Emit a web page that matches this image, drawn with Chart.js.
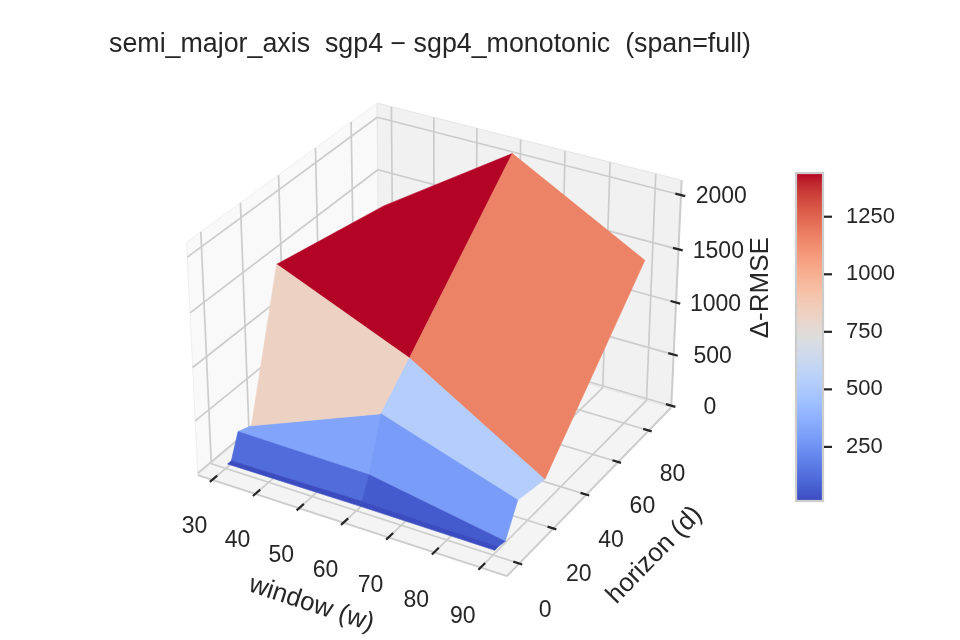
<!DOCTYPE html>
<html>
<head>
<meta charset="utf-8">
<title>semi_major_axis sgp4 - sgp4_monotonic</title>
<script src="https://cdn.jsdelivr.net/npm/chart.js@4.4.1/dist/chart.umd.min.js"></script>
<style>
  html, body { margin: 0; padding: 0; background: #ffffff; }
  #wrap { width: 960px; height: 640px; }
</style>
</head>
<body>
<div id="wrap"><canvas id="surfaceChart" width="960" height="640"></canvas></div>
<script>
// Grid of the surface
const windows = [30, 60, 90];
const horizons = [1, 3, 7, 14, 30, 90];
// Delta-RMSE, one row per horizon, one column per window
const deltaRmse = [
    [10, 15, 10],
    [10, 25, 12],
    [230, 215, -5],
    [180, 680, 270],
    [1480, 965, 210],
    [1250, 2065, 1400]
];

// Tick labels
const windowTicks = [30, 40, 50, 60, 70, 80, 90];
const horizonTicks = [0, 20, 40, 60, 80];
const rmseTicks = [0, 500, 1000, 1500, 2000];
const colorbarTicks = [250, 500, 750, 1000, 1250];

// 3D box limits (axis limits incl. margins)
const X_LIM = [26.6, 95.6];
const Y_LIM = [-7, 95];
const Z_LIM = [-18, 2134];

// View, same as matplotlib default (elev 30, azim -60)
const ELEV = 30, AZIM = -60, DIST = 10;
const ASPECT = [1.1905, 1.1905, 0.8929];
const VIEW_X = [-0.14753, 0.17516];
const VIEW_Y = [-0.10481, 0.11032];

const FONT = '"Liberation Sans", Arial, "DejaVu Sans", sans-serif';
const TEXT_COLOR = '#262626';

// coolwarm colormap
const COOLWARM = [
    [59, 76, 192], [68, 90, 204], [77, 104, 215], [87, 117, 225], [98, 130, 234],
    [108, 142, 241], [119, 154, 247], [130, 165, 251], [141, 176, 254], [152, 185, 255],
    [163, 194, 255], [174, 201, 253], [184, 208, 249], [194, 213, 244], [204, 217, 238],
    [213, 219, 230], [221, 221, 221], [229, 216, 209], [236, 211, 197], [241, 204, 185],
    [245, 196, 173], [247, 187, 160], [247, 177, 148], [247, 166, 135], [244, 154, 123],
    [241, 141, 111], [236, 127, 99], [229, 112, 88], [222, 96, 77], [213, 80, 66],
    [203, 62, 56], [192, 40, 47], [180, 4, 38]
];

function coolwarm(t) {
    t = Math.min(1, Math.max(0, t));
    const n = COOLWARM.length - 1;
    const f = t * n;
    const i = Math.min(n - 1, Math.floor(f));
    const r = f - i;
    const a = COOLWARM[i], b = COOLWARM[i + 1];
    const c = [0, 1, 2].map(k => Math.round(a[k] + (b[k] - a[k]) * r));
    return 'rgb(' + c.join(',') + ')';
}

// view axes
const view = (function() {
    const e = ELEV * Math.PI / 180, a = AZIM * Math.PI / 180;
    const w = [Math.cos(e) * Math.cos(a), Math.cos(e) * Math.sin(a), Math.sin(e)];
    const n = Math.hypot(w[0], w[1]);
    const u = [-w[1] / n, w[0] / n, 0];
    const v = [w[1] * u[2] - w[2] * u[1], w[2] * u[0] - w[0] * u[2], w[0] * u[1] - w[1] * u[0]];
    return { u: u, v: v, w: w };
})();

function dot(a, b) { return a[0] * b[0] + a[1] * b[1] + a[2] * b[2]; }

function project(x, y, z) {
    const q = [
        ((x - X_LIM[0]) / (X_LIM[1] - X_LIM[0]) - 0.5) * ASPECT[0],
        ((y - Y_LIM[0]) / (Y_LIM[1] - Y_LIM[0]) - 0.5) * ASPECT[1],
        ((z - Z_LIM[0]) / (Z_LIM[1] - Z_LIM[0]) - 0.5) * ASPECT[2]
    ];
    const d = DIST - dot(view.w, q);
    return { x: dot(view.u, q) / d, y: dot(view.v, q) / d, depth: d };
}

// faces of the surface, coloured by mean height like plot_surface
const faces = [];
for (let i = 0; i < horizons.length - 1; i++) {
    for (let j = 0; j < windows.length - 1; j++) {
        const corners = [
            [windows[j], horizons[i], deltaRmse[i][j]],
            [windows[j + 1], horizons[i], deltaRmse[i][j + 1]],
            [windows[j + 1], horizons[i + 1], deltaRmse[i + 1][j + 1]],
            [windows[j], horizons[i + 1], deltaRmse[i + 1][j]]
        ];
        const avg = corners.reduce((s, c) => s + c[2], 0) / 4;
        faces.push({ corners: corners, avg: avg });
    }
}
const vmin = Math.min(...faces.map(f => f.avg));
const vmax = Math.max(...faces.map(f => f.avg));

const vertexPoints = [];
horizons.forEach((h, i) => windows.forEach((w, j) => {
    const p = project(w, h, deltaRmse[i][j]);
    vertexPoints.push({ x: p.x, y: p.y });
}));

const surfacePlugin = {
    id: 'surface3d',
    afterDatasetsDraw(chart) {
        const ctx = chart.ctx;
        const sx = chart.scales.x, sy = chart.scales.y;
        const XL = X_LIM[0], XH = X_LIM[1], YL = Y_LIM[0], YH = Y_LIM[1], ZL = Z_LIM[0], ZH = Z_LIM[1];
        const Xr = XH - XL, Yr = YH - YL, Zr = ZH - ZL;
        const dx = Xr / 12, dy = Yr / 12;

        const toPx = (x, y, z) => {
            const p = project(x, y, z);
            return [sx.getPixelForValue(p.x), sy.getPixelForValue(p.y)];
        };
        const poly = (pts, fill, stroke, lw) => {
            ctx.beginPath();
            pts.forEach((p, k) => k ? ctx.lineTo(p[0], p[1]) : ctx.moveTo(p[0], p[1]));
            ctx.closePath();
            if (fill) { ctx.fillStyle = fill; ctx.fill(); }
            if (stroke) { ctx.strokeStyle = stroke; ctx.lineWidth = lw; ctx.stroke(); }
        };
        const line = (a, b, color, lw) => {
            const p = toPx(...a), r = toPx(...b);
            ctx.beginPath();
            ctx.moveTo(p[0], p[1]);
            ctx.lineTo(r[0], r[1]);
            ctx.strokeStyle = color;
            ctx.lineWidth = lw;
            ctx.stroke();
        };
        const label = (str, pos, size, angle) => {
            const p = toPx(...pos);
            ctx.save();
            ctx.translate(p[0], p[1]);
            ctx.rotate(angle || 0);
            ctx.font = size + 'px ' + FONT;
            ctx.fillStyle = TEXT_COLOR;
            ctx.textAlign = 'center';
            ctx.textBaseline = 'middle';
            ctx.fillText(str, 0, 0);
            ctx.restore();
        };

        ctx.save();
        ctx.lineCap = 'butt';

        // panes
        poly([toPx(XL, YL, ZL), toPx(XH, YL, ZL), toPx(XH, YH, ZL), toPx(XL, YH, ZL)], '#f4f4f4', '#eaeaea', 1);
        poly([toPx(XL, YL, ZL), toPx(XL, YH, ZL), toPx(XL, YH, ZH), toPx(XL, YL, ZH)], '#f9f9f9', '#efefef', 1);
        poly([toPx(XL, YH, ZL), toPx(XH, YH, ZL), toPx(XH, YH, ZH), toPx(XL, YH, ZH)], '#f1f1f1', '#e6e6e6', 1);

        // grid lines
        const grid = '#cccccc', glw = 1.7;
        windowTicks.forEach(t => {
            line([t, YL, ZL], [t, YH, ZL], grid, glw);
            line([t, YH, ZL], [t, YH, ZH], grid, glw);
        });
        horizonTicks.forEach(t => {
            line([XL, t, ZL], [XH, t, ZL], grid, glw);
            line([XL, t, ZL], [XL, t, ZH], grid, glw);
        });
        rmseTicks.forEach(t => {
            line([XL, YL, t], [XL, YH, t], grid, glw);
            line([XL, YH, t], [XH, YH, t], grid, glw);
        });

        // axis lines
        line([XL, YL, ZL], [XH, YL, ZL], '#cccccc', 2);
        line([XH, YL, ZL], [XH, YH, ZL], '#cccccc', 2);
        line([XH, YH, ZL], [XH, YH, ZH], '#cccccc', 2);

        // ticks: reach further in than out, as in mplot3d
        const tk = TEXT_COLOR, tlw = 2.2;
        windowTicks.forEach(t => line([t, YL + 0.3 * dy, ZL], [t, YL - 0.15 * dy, ZL], tk, tlw));
        horizonTicks.forEach(t => line([XH - 0.22 * dx, t, ZL], [XH + 0.11 * dx, t, ZL], tk, tlw));
        rmseTicks.forEach(t => line([XH - 0.21 * dx, YH, t], [XH + 0.16 * dx, YH, t], tk, tlw));

        // surface, far faces first
        const drawn = faces.map(f => {
            const pr = f.corners.map(c => project(...c));
            return {
                pts: f.corners.map(c => toPx(...c)),
                depth: pr.reduce((s, p) => s + p.depth, 0) / 4,
                color: coolwarm((f.avg - vmin) / (vmax - vmin))
            };
        }).sort((a, b) => b.depth - a.depth);
        drawn.forEach(f => poly(f.pts, f.color, f.color, 0.6));

        // tick labels
        windowTicks.forEach(t => label(String(t), [t, YL - 0.097 * Yr, ZL - 0.136 * Zr], 23));
        horizonTicks.forEach(t => label(String(t), [XH + 0.082 * Xr, t, ZL - 0.168 * Zr], 23));
        rmseTicks.forEach(t => label(String(t), [XH + 0.104 * Xr, YH + 0.045 * Yr, t], 23));

        // axis labels, rotated along their axes
        const a0 = toPx(XL, YL, ZL), a1 = toPx(XH, YL, ZL), a2 = toPx(XH, YH, ZL);
        label('window (w)', [(XL + XH) / 2, YL - 0.197 * Yr, ZL - 0.198 * Zr], 26,
            Math.atan2(a1[1] - a0[1], a1[0] - a0[0]));
        label('horizon (d)', [XH + 0.20 * Xr, (YL + YH) / 2, ZL - 0.213 * Zr], 26,
            Math.atan2(a2[1] - a1[1], a2[0] - a1[0]));
        label('\u0394-RMSE', [XH + 0.196 * Xr, YH + 0.149 * Yr, (ZL + ZH) / 2 + 0.015 * Zr], 26, -Math.PI / 2);

        // colorbar
        const cb = { left: 796, right: 823, top: 173, bottom: 501 };
        const cbY = v => cb.bottom - (v - vmin) / (vmax - vmin) * (cb.bottom - cb.top);
        for (let y = cb.top; y < cb.bottom; y += 1) {
            const v = vmin + (cb.bottom - y - 0.5) / (cb.bottom - cb.top) * (vmax - vmin);
            ctx.fillStyle = coolwarm((v - vmin) / (vmax - vmin));
            ctx.fillRect(cb.left, y, cb.right - cb.left, 1.2);
        }
        ctx.strokeStyle = '#cccccc';
        ctx.lineWidth = 2.2;
        ctx.strokeRect(cb.left, cb.top, cb.right - cb.left, cb.bottom - cb.top);
        ctx.font = '22px ' + FONT;
        ctx.fillStyle = TEXT_COLOR;
        ctx.textAlign = 'left';
        ctx.textBaseline = 'middle';
        colorbarTicks.forEach(t => {
            const y = cbY(t);
            ctx.beginPath();
            ctx.moveTo(cb.right + 1, y);
            ctx.lineTo(cb.right + 9, y);
            ctx.strokeStyle = TEXT_COLOR;
            ctx.lineWidth = 2.2;
            ctx.stroke();
            ctx.fillText(String(t), cb.right + 23, y);
        });

        // title
        ctx.font = '26.8px ' + FONT;
        ctx.textAlign = 'center';
        ctx.textBaseline = 'middle';
        ctx.fillText('semi_major_axis  sgp4 \u2212 sgp4_monotonic  (span=full)', 430, 45);

        ctx.restore();
    }
};

const surfaceCtx = document.getElementById('surfaceChart').getContext('2d');
new Chart(surfaceCtx, {
    type: 'scatter',
    data: {
        datasets: [{
            label: 'vertices',
            data: vertexPoints,
            pointRadius: 0,
            showLine: false
        }]
    },
    options: {
        responsive: false,
        animation: false,
        layout: { padding: 0 },
        plugins: {
            legend: { display: false },
            tooltip: { enabled: false },
            title: { display: false }
        },
        scales: {
            x: { type: 'linear', display: false, min: VIEW_X[0], max: VIEW_X[1] },
            y: { type: 'linear', display: false, min: VIEW_Y[0], max: VIEW_Y[1] }
        }
    },
    plugins: [surfacePlugin]
});
</script>
</body>
</html>
